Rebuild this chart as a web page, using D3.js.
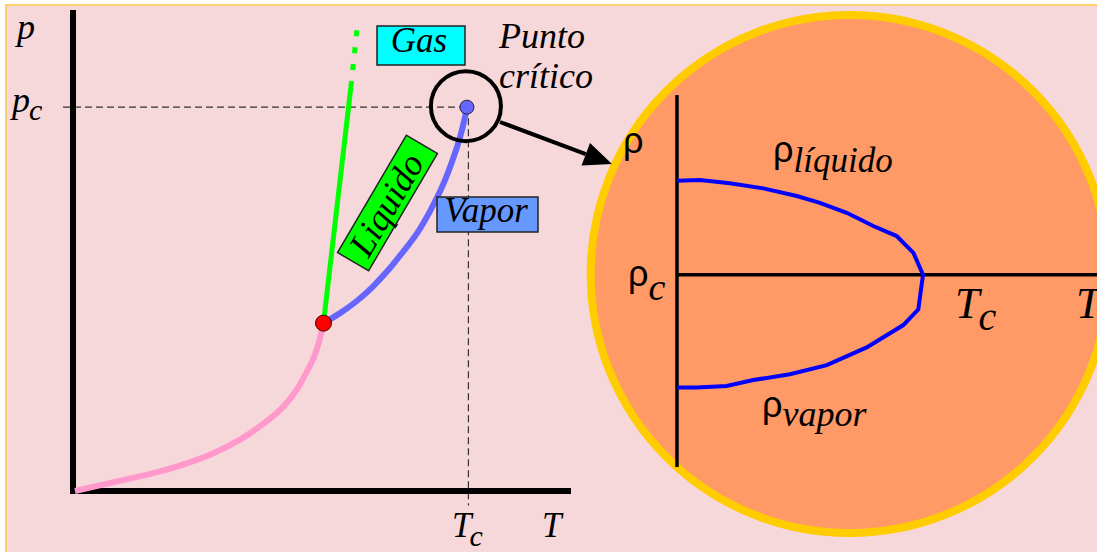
<!DOCTYPE html>
<html><head><meta charset="utf-8">
<script src="https://cdn.jsdelivr.net/npm/d3@7"></script>
<style>html,body{margin:0;padding:0;background:#fff;overflow:hidden}</style>
</head><body><svg id="c" width="1097" height="552"></svg>
<script>
// ---- Left phase diagram data (T, p) in arbitrary units ----
const sublimationCurve = [[0.4,0],[8.4,1.9],[16.1,3.7],[23.0,5.8],[28.3,7.9],[33.7,10.8],[38.4,14.1],[42.2,17.5],[44.9,21.0],[46.8,24.5],[48.4,27.9],[49.5,31.4],[50.3,34.9]];
const vaporCurve = [[50.3,34.9],[53.6,36.9],[57.0,39.4],[60.3,42.5],[63.7,46.3],[66.3,49.8],[69.0,53.2],[71.7,58.1],[74.4,63.6],[76.4,69.2],[77.7,73.3],[78.7,77.5],[79.1,79.8]];
const meltingSolid = [[50.3,34.9],[55.8,84.0]];
const meltingDotted = [[55.8,84.0],[57.0,95.8]];
const triplePoint = [50.3,34.9];
const criticalPoint = [79.1,79.8];
const axisLabels = ["p","T"];
const criticalLabels = ["p","T"]; // with subscript c
const regionLabels = ["Gas","Liquido","Vapor"];
const critText = ["Punto","crítico"];
// ---- Inset data (T / Tc, rho / rho_c) ----
const coexistence = [[0,1.489],[0.093,1.492],[0.215,1.475],[0.351,1.449],[0.487,1.409],[0.581,1.374],[0.690,1.322],[0.798,1.253],[0.893,1.201],[0.961,1.114],[1.0,1.0],[0.981,0.820],[0.920,0.738],[0.771,0.622],[0.609,0.530],[0.459,0.482],[0.310,0.452],[0.202,0.421],[0.080,0.414],[0,0.414]];
const insetLabels = ["líquido","vapor"];

const svg = d3.select("#c");
const serif = "Liberation Serif, DejaVu Serif, serif";
const sans = "Liberation Sans, Arial, sans-serif";

// background
svg.append("rect").attr("x",6).attr("y",5).attr("width",1091).attr("height",547).attr("fill","#f6d7da");
svg.append("path").attr("d","M6,552 V5 H1097").attr("fill","none").attr("stroke","#ffd070").attr("stroke-width",2);

// scales left
const x = d3.scaleLinear().domain([0,100]).range([73,571]);
const y = d3.scaleLinear().domain([0,100]).range([491,10]);
const line = d3.line().x(d=>x(d[0])).y(d=>y(d[1]));
const smooth = d3.line().x(d=>x(d[0])).y(d=>y(d[1])).curve(d3.curveCatmullRom);
const smoother = d3.line().x(d=>x(d[0])).y(d=>y(d[1])).curve(d3.curveBasis);

// dashed guides
svg.append("line").attr("x1",x(-2)).attr("x2",x(criticalPoint[0])).attr("y1",y(criticalPoint[1])).attr("y2",y(criticalPoint[1]))
  .attr("stroke","#333").attr("stroke-width",1.2).attr("stroke-dasharray","7,4");
svg.append("line").attr("x1",x(criticalPoint[0])+1.5).attr("x2",x(criticalPoint[0])+1.5).attr("y1",y(criticalPoint[1])).attr("y2",y(-3))
  .attr("stroke","#333").attr("stroke-width",1.2).attr("stroke-dasharray","7,4");

// axes
svg.append("line").attr("x1",x(0)).attr("x2",x(0)).attr("y1",y(100)).attr("y2",y(0)+2.5).attr("stroke","#000").attr("stroke-width",6);
svg.append("line").attr("x1",x(0)-3).attr("x2",x(100)).attr("y1",y(0)).attr("y2",y(0)).attr("stroke","#000").attr("stroke-width",6);

// curves
svg.append("path").attr("d",smooth(sublimationCurve)).attr("fill","none").attr("stroke","#ff99cc").attr("stroke-width",6);
svg.append("path").attr("d",smoother(vaporCurve)).attr("fill","none").attr("stroke","#6666ff").attr("stroke-width",6);
svg.append("path").attr("d",line(meltingSolid)).attr("fill","none").attr("stroke","#00ff00").attr("stroke-width",5);
svg.append("path").attr("d",line(meltingDotted)).attr("fill","none").attr("stroke","#00ff00").attr("stroke-width",5).attr("stroke-dasharray","6,11");

// points
svg.append("circle").attr("cx",x(triplePoint[0])).attr("cy",y(triplePoint[1])).attr("r",8).attr("fill","#ff0000").attr("stroke","#400").attr("stroke-width",1);
svg.append("circle").attr("cx",x(criticalPoint[0])).attr("cy",y(criticalPoint[1])).attr("r",7).attr("fill","#6666ff").attr("stroke","#223").attr("stroke-width",1);
svg.append("circle").attr("cx",x(criticalPoint[0])-1).attr("cy",y(criticalPoint[1])-1).attr("r",35).attr("fill","none").attr("stroke","#000").attr("stroke-width",4);

// axis labels
svg.append("text").attr("x",17).attr("y",39).text(axisLabels[0]).attr("font-family",serif).attr("font-style","italic").attr("font-size",36);
const pc = svg.append("text").attr("x",12).attr("y",112).attr("font-family",serif).attr("font-style","italic").attr("font-size",36);
pc.append("tspan").text(criticalLabels[0]);
pc.append("tspan").attr("dy",8).attr("dx",-1).attr("font-size",30).text("c");
const tc = svg.append("text").attr("x",452).attr("y",537).attr("font-family",serif).attr("font-style","italic").attr("font-size",35);
tc.append("tspan").text(criticalLabels[1]);
tc.append("tspan").attr("dy",9).attr("dx",-2).attr("font-size",30).text("c");
svg.append("text").attr("x",542).attr("y",537).text(axisLabels[1]).attr("font-family",serif).attr("font-style","italic").attr("font-size",35);

// Gas box
svg.append("rect").attr("x",377).attr("y",26).attr("width",88).attr("height",39).attr("fill","#00ffff").attr("stroke","#222").attr("stroke-width",1.5);
svg.append("text").attr("x",419).attr("y",52).attr("text-anchor","middle").text(regionLabels[0]).attr("font-family",serif).attr("font-style","italic").attr("font-size",35);
// Vapor box
svg.append("rect").attr("x",437).attr("y",197).attr("width",101).attr("height",35).attr("fill","#6699ff").attr("stroke","#222").attr("stroke-width",1.5);
svg.append("text").attr("x",486).attr("y",222).attr("text-anchor","middle").text(regionLabels[2]).attr("font-family",serif).attr("font-style","italic").attr("font-size",35);
// Liquido box
const lg = svg.append("g").attr("transform","translate(387.5,203) rotate(-59.6)");
lg.append("rect").attr("x",-68).attr("y",-18).attr("width",136).attr("height",36).attr("fill","#00ff00").attr("stroke","#222").attr("stroke-width",1.5);
lg.append("text").attr("x",-2).attr("y",12).attr("text-anchor","middle").text(regionLabels[1]).attr("font-family",serif).attr("font-style","italic").attr("font-size",36);

// Punto critico
svg.append("text").attr("x",499).attr("y",48).text(critText[0]).attr("font-family",serif).attr("font-style","italic").attr("font-size",36);
svg.append("text").attr("x",499).attr("y",88).text(critText[1]).attr("font-family",serif).attr("font-style","italic").attr("font-size",36);

// inset circle
const cx0 = 849.7, cy0 = 274, R = 259;
svg.append("circle").attr("cx",cx0).attr("cy",cy0).attr("r",R).attr("fill","#ff9966").attr("stroke","#ffcc00").attr("stroke-width",8);

// arrow
const ax1 = 500, ay1 = 122, ax2 = 612, ay2 = 164;
const ang = Math.atan2(ay2-ay1, ax2-ax1);
const hl = 28, hw = 12;
const bx = ax2 - hl*Math.cos(ang), by = ay2 - hl*Math.sin(ang);
svg.append("line").attr("x1",ax1).attr("y1",ay1).attr("x2",bx).attr("y2",by).attr("stroke","#000").attr("stroke-width",4);
svg.append("path").attr("d",`M${ax2},${ay2} L${bx - hw*Math.sin(ang)},${by + hw*Math.cos(ang)} L${bx + hw*Math.sin(ang)},${by - hw*Math.cos(ang)} Z`).attr("fill","#000");

// inset scales
const xi = d3.scaleLinear().domain([0,1]).range([677,923]);
const yi = d3.scaleLinear().domain([0,1]).range([467,274.7]);
svg.append("line").attr("x1",xi(0)).attr("x2",xi(0)).attr("y1",yi(1.934)).attr("y2",yi(0)).attr("stroke","#000").attr("stroke-width",3.5);
svg.append("line").attr("x1",xi(0)).attr("x2",1097).attr("y1",yi(1)).attr("y2",yi(1)).attr("stroke","#000").attr("stroke-width",3.5);
const li = d3.line().x(d=>xi(d[0])).y(d=>yi(d[1]));
svg.append("path").attr("d",li(coexistence)).attr("fill","none").attr("stroke","#0000ff").attr("stroke-width",4).attr("stroke-linejoin","miter");

// inset labels
svg.append("text").attr("x",623).attr("y",153).text("ρ").attr("font-family",sans).attr("font-size",36);
const rc = svg.append("text").attr("x",628).attr("y",286).attr("font-family",sans).attr("font-size",36);
rc.append("tspan").text("ρ");
rc.append("tspan").attr("dy",14).attr("font-family",serif).attr("font-style","italic").attr("font-size",38).text("c");
const rl = svg.append("text").attr("x",773).attr("y",162).attr("font-family",sans).attr("font-size",36);
rl.append("tspan").text("ρ");
rl.append("tspan").attr("dy",10).attr("font-family",serif).attr("font-style","italic").attr("font-size",35).text(insetLabels[0]);
const rv = svg.append("text").attr("x",762).attr("y",417).attr("font-family",sans).attr("font-size",36);
rv.append("tspan").text("ρ");
rv.append("tspan").attr("dy",9).attr("font-family",serif).attr("font-style","italic").attr("font-size",36).text(insetLabels[1]);
const ti = svg.append("text").attr("x",955).attr("y",318).attr("font-family",serif).attr("font-style","italic").attr("font-size",44);
ti.append("tspan").text("T");
ti.append("tspan").attr("dy",12).attr("dx",-1).attr("font-size",40).text("c");
svg.append("text").attr("x",1076).attr("y",318).text("T").attr("font-family",serif).attr("font-style","italic").attr("font-size",44);
</script></body></html>
